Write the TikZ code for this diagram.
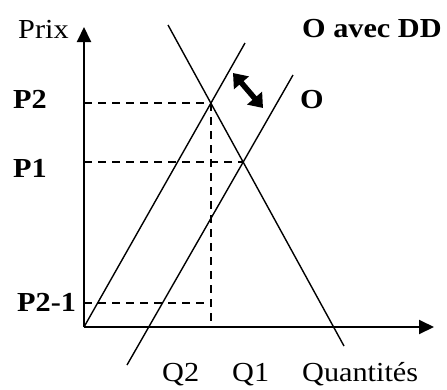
\documentclass[tikz,border=0pt]{standalone}
\usepackage{fontspec}
\setmainfont{Liberation Serif}
\newfontfamily\regfont[FakeStretch=1.1]{Liberation Serif}
\newfontfamily\boldfont[FakeStretch=1.1]{Liberation Serif Bold}
\usetikzlibrary{arrows.meta,intersections}
\begin{document}
\begin{tikzpicture}[x=1pt,y=-1pt,
  reglab/.style={inner sep=0pt,anchor=base west,font=\regfont\fontsize{27.5}{27.5}\selectfont},
  boldlab/.style={inner sep=0pt,anchor=base west,font=\boldfont\fontsize{27.5}{27.5}\selectfont},
  curve/.style={line width=1.4pt},
  axis/.style={line width=2pt,-{Triangle[width=14pt,length=15pt]}},
  guide/.style={line width=2pt,dash pattern=on 8pt off 6pt}]
\useasboundingbox (0,0) rectangle (447,389);
% axes
\coordinate (O) at (84,327);
\coordinate (ytop) at (84,27);
\coordinate (xend) at (434,327);
\draw[axis] (O) -- (ytop);
\draw[axis] (O) -- (xend);
% curves
\coordinate (d1) at (168,25);
\coordinate (d2) at (344,346);
\coordinate (s1) at (84,327);
\coordinate (s2) at (245,43);
\coordinate (o1) at (127,365);
\coordinate (o2) at (293,75);
\draw[curve,name path=dem] (d1) -- (d2);
\draw[curve,name path=sdd] (s1) -- (s2);
\draw[curve,name path=so] (o1) -- (o2);
\path[name intersections={of=dem and sdd,by=E2}];
\path[name intersections={of=dem and so,by=E1}];
% guides
\coordinate (p2ax) at (O |- E2);
\coordinate (p1ax) at (O |- E1);
\coordinate (q2ax) at (E2 |- O);
\coordinate (p21ax) at (84,303);
\coordinate (p21e) at (E2 |- p21ax);
\draw[guide] (p2ax) -- (E2);
\draw[guide] (p1ax) -- (E1);
\draw[guide] (E2) -- (q2ax);
\draw[guide] (p21ax) -- (p21e);
% double arrow
\coordinate (da1) at (233,73);
\coordinate (da2) at (263,108);
\draw[line width=5.5pt,{Triangle[width=19pt,length=13pt]}-{Triangle[width=19pt,length=13pt]}] (da1) -- (da2);
% labels
\node[reglab] (prix) at (18,38) {Prix};
\node[boldlab] (oavec) at (302,37) {O avec DD};
\node[boldlab] (olab) at (300,108) {O};
\node[boldlab] (p2) at (13,108) {P2};
\node[boldlab] (p1) at (13,177) {P1};
\node[boldlab] (p21) at (17,311) {P2-1};
\node[reglab] (q2) at (162,381) {Q2};
\node[reglab] (q1) at (232,381) {Q1};
\node[reglab] (quant) at (302,381) {Quantités};
\end{tikzpicture}
\end{document}
